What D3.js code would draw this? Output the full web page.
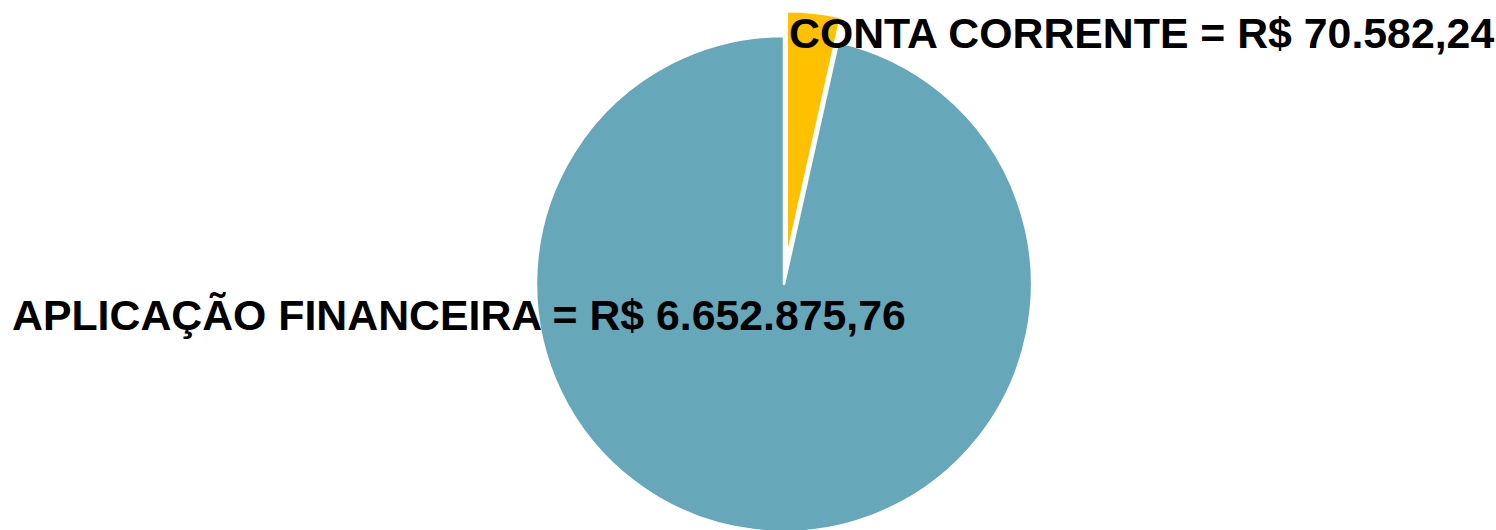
<!DOCTYPE html>
<html>
    <head>
        <meta charset="utf-8">
        <style>
            body {
                margin: 0;
                background: #fff;
            }
            .slice path {
                stroke: #fff;
                stroke-width: 2.5px;
                stroke-linejoin: round;
            }
            .label {
                font-family: "Liberation Sans", Arial, sans-serif;
                font-weight: bold;
                font-size: 42.8px;
                fill: #000;
            }
        </style>
    </head>
    <body>
        <script src="https://d3js.org/d3.v7.min.js"></script>
        <script>
            const categories = ['CONTA CORRENTE', 'APLICAÇÃO FINANCEIRA'];
            const amounts = ['R$ 70.582,24', 'R$ 6.652.875,76'];
            const shares = [3.5, 96.5];
            const colors = ['#FFC000', '#67A7BA'];
            const exploded = [25, 0];

            const width = 1496,
                height = 530,
                cx = 784,
                cy = 284,
                radius = 248;

            const svg = d3.select('body').append('svg')
                .attr('width', width)
                .attr('height', height);

            const pie = d3.pie()
                .sort(null)
                .value((d, i) => shares[i]);

            const arc = d3.arc()
                .innerRadius(0)
                .outerRadius(radius);

            const arcs = pie(categories);

            const g = svg.append('g')
                .attr('transform', `translate(${cx},${cy})`);

            // big slice first, exploded slice on top
            const order = [1, 0];
            g.selectAll('g.slice')
                .data(order.map(i => ({ a: arcs[i], i })))
                .join('g')
                .attr('class', 'slice')
                .attr('transform', d => {
                    const mid = (d.a.startAngle + d.a.endAngle) / 2;
                    const off = exploded[d.i];
                    return `translate(${off * Math.sin(mid)},${-off * Math.cos(mid)})`;
                })
                .append('path')
                .attr('fill', d => colors[d.i])
                .attr('d', d => arc(d.a));

            // label positions, as laid out in the original chart
            const labelPos = [
                { x: cx + 5, y: 48 },
                { x: 12, y: 330 }
            ];

            svg.selectAll('text.label')
                .data(categories)
                .join('text')
                .attr('class', 'label')
                .attr('x', (d, i) => labelPos[i].x)
                .attr('y', (d, i) => labelPos[i].y)
                .text((d, i) => `${d} = ${amounts[i]}`);
        </script>
    </body>
</html>
